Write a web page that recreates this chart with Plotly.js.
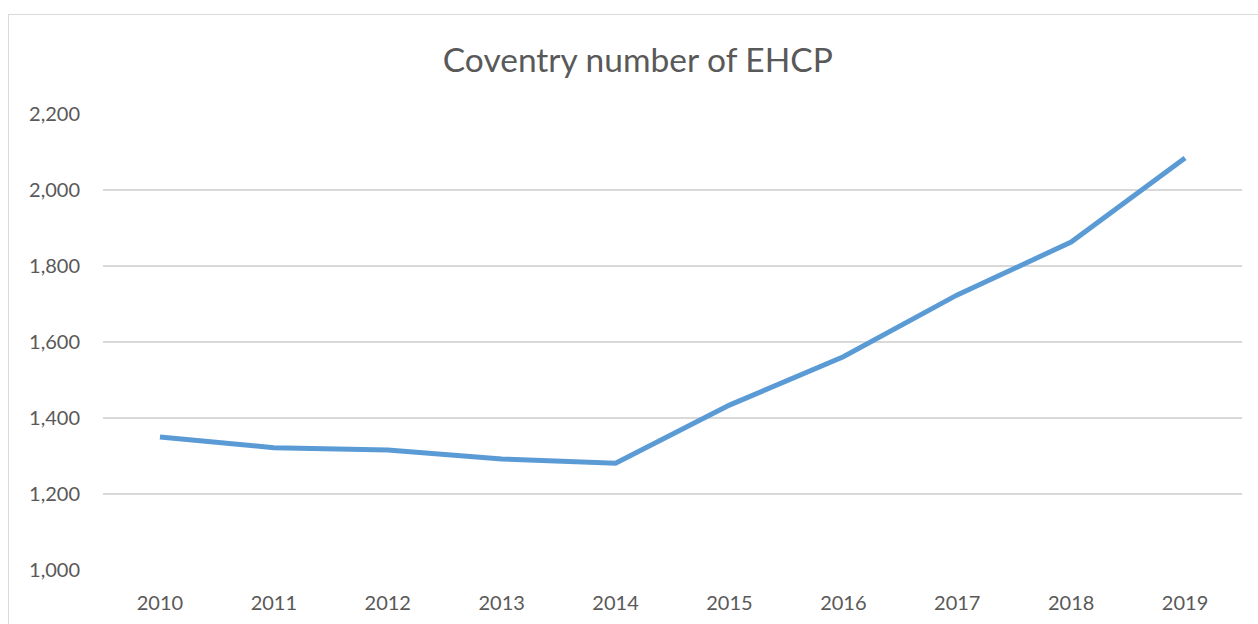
<!DOCTYPE html>
<html>
<head>
<meta charset="utf-8">
<script src="https://cdn.plot.ly/plotly-3.0.1.min.js"></script>
<style>
html,body{margin:0;padding:0;background:#fff;overflow:hidden;}
#chart{width:1258px;height:624px;position:absolute;left:0;top:0;}
#frame{position:absolute;left:8px;top:14px;width:1300px;height:700px;border:1.5px solid #d9d9d9;pointer-events:none;}
</style>
</head>
<body>
<div id="chart"></div>
<div id="frame"></div>
<script>
const years = ['2010','2011','2012','2013','2014','2015','2016','2017','2018','2019'];
const ehcp = [1350, 1322, 1316, 1292, 1281, 1434, 1561, 1724, 1863, 2084];
const yTicks = [1000, 1200, 1400, 1600, 1800, 2000, 2200];
const yTickLabels = ['1,000','1,200','1,400','1,600','1,800','2,000','2,200'];

const trace = {
  x: years, y: ehcp, type: 'scatter', mode: 'lines',
  line: {color: '#5B9BD5', width: 5, shape: 'linear'},
  hoverinfo: 'x+y'
};
const font = 'Lato, Open Sans, Liberation Sans, sans-serif';
const layout = {
  width: 1258, height: 624,
  margin: {l: 103, r: 16, t: 114, b: 54, pad: 0},
  paper_bgcolor: 'rgba(0,0,0,0)', plot_bgcolor: '#fff',
  showlegend: false,
  title: {text: 'Coventry number of EHCP', x: 0.507, xanchor: 'center', y: 0.903, yanchor: 'middle',
          font: {family: font, size: 33.5, color: '#595959'}},
  xaxis: {type: 'category', range: [-0.5, 9.5], showgrid: false, showline: false, zeroline: false, ticks: '',
          tickfont: {family: font, size: 20, color: '#595959'}, ticklabelstandoff: 19},
  yaxis: {range: [1000, 2200], tickvals: yTicks, ticktext: yTickLabels, showgrid: true,
          gridcolor: '#d9d9d9', gridwidth: 1.5, zeroline: false, showline: false, ticks: '',
          tickfont: {family: font, size: 20, color: '#595959'}, ticklabelstandoff: 22}
};
Plotly.newPlot('chart', [trace], layout, {displayModeBar: false, staticPlot: true});
</script>
</body>
</html>
